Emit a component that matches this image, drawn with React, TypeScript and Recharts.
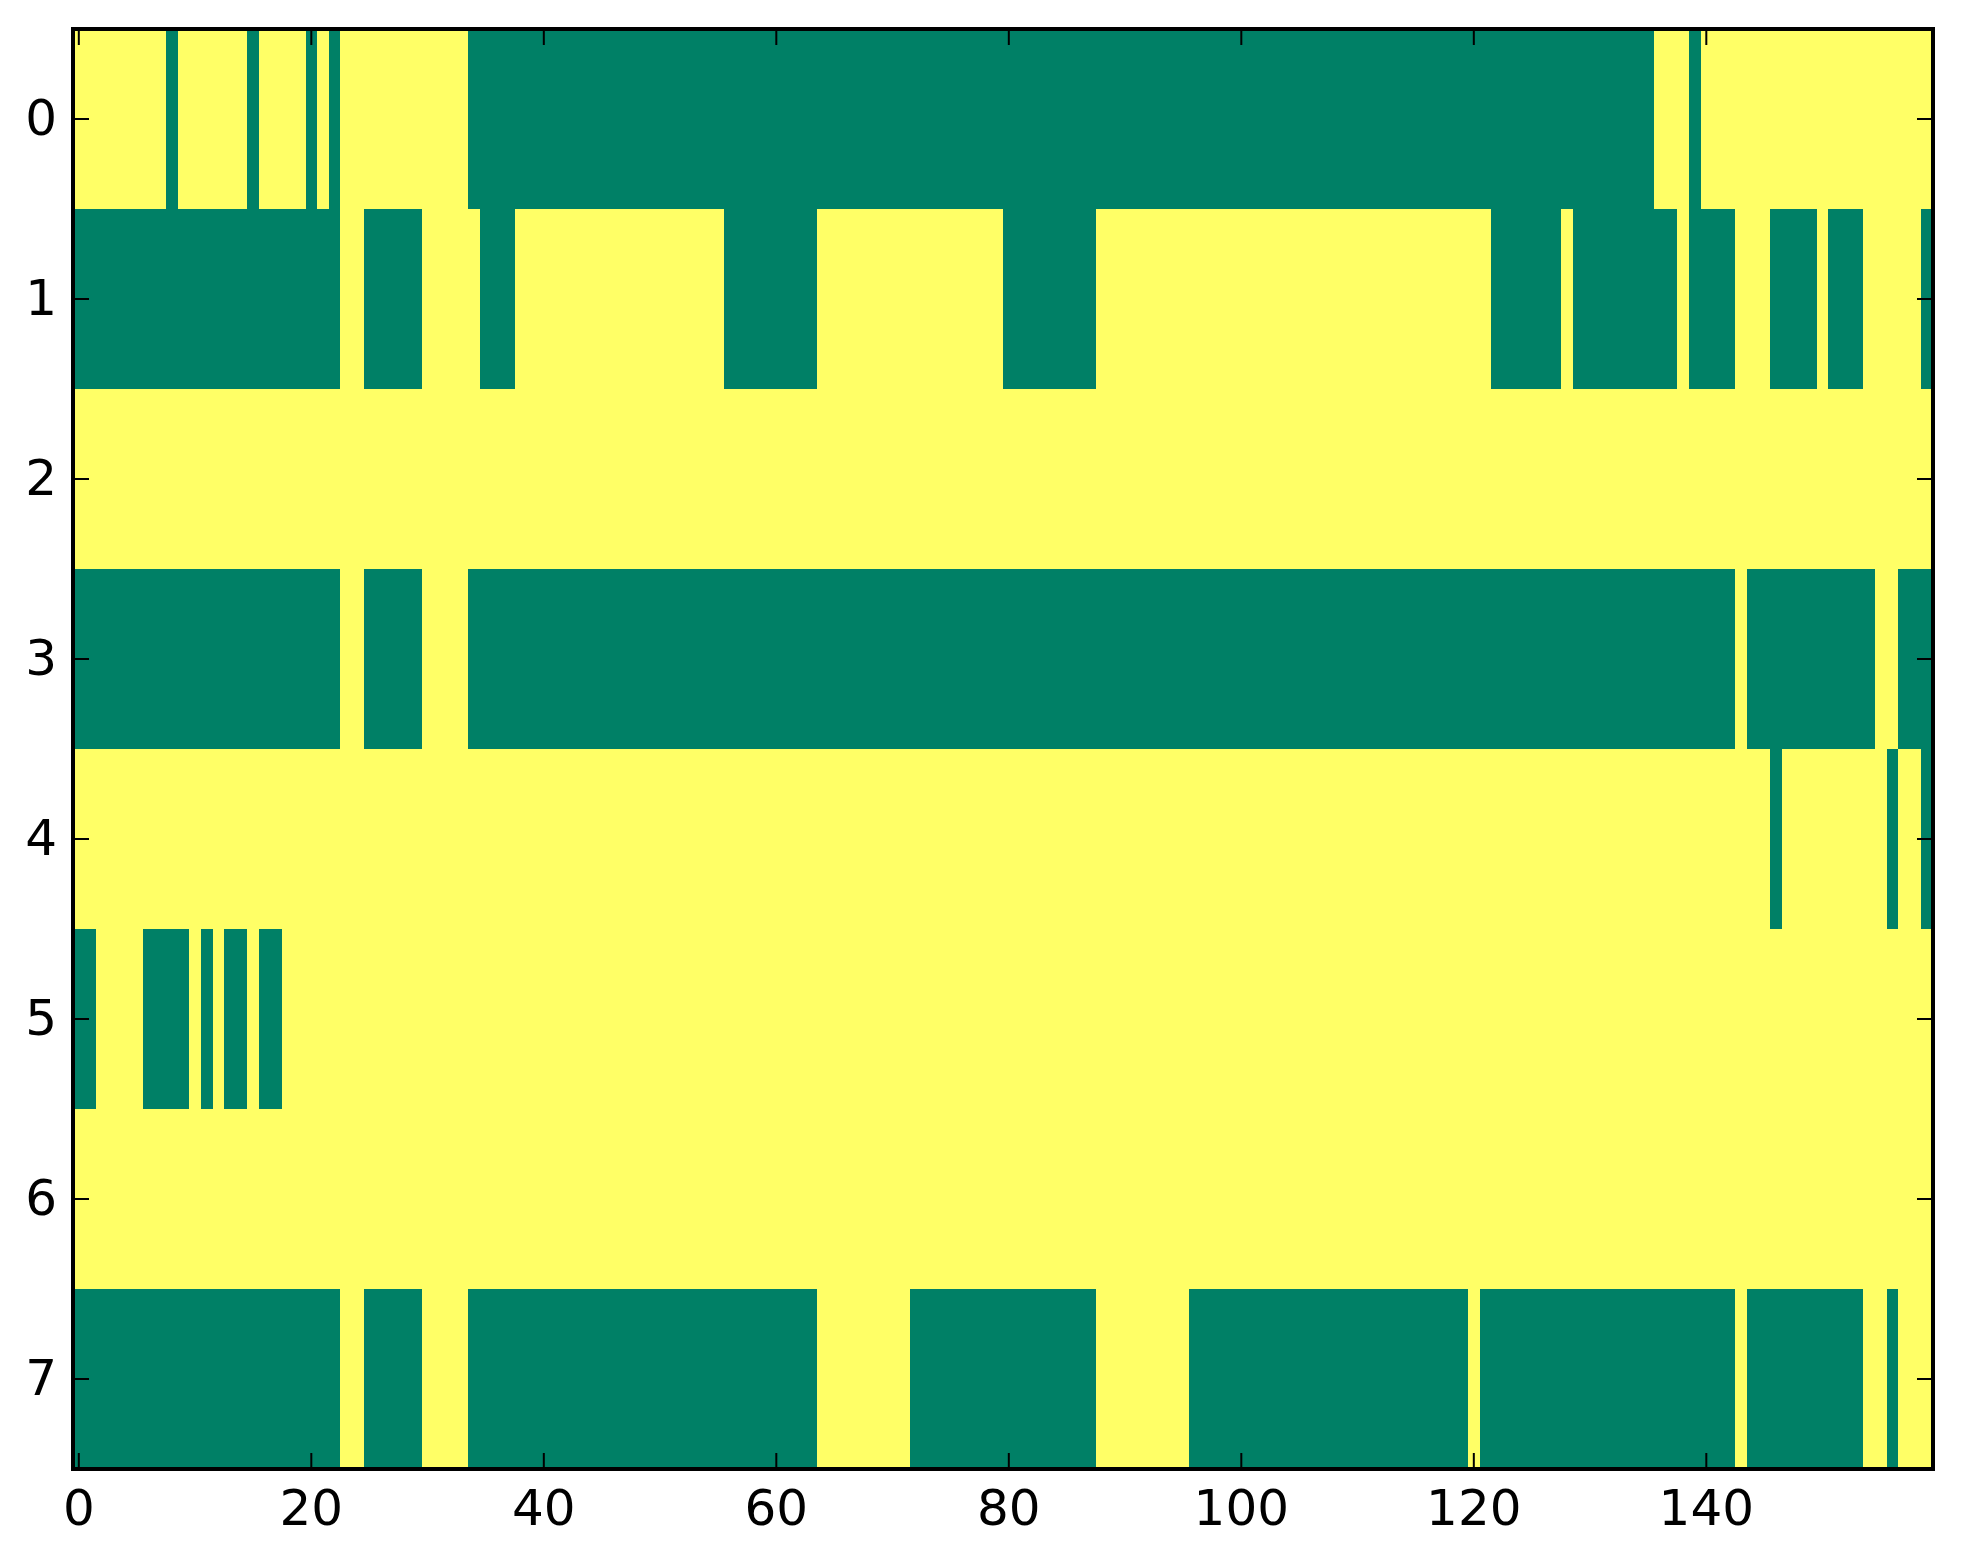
import React from 'react';
import { ComposedChart, XAxis, YAxis, ReferenceArea } from 'recharts';

// green (value 1) cell runs per row, [firstColumn, lastColumn]; everything else is yellow (value 0)
const row0: number[][] = [[8, 8], [15, 15], [20, 20], [22, 22], [34, 135], [139, 139]];
const row1: number[][] = [[0, 22], [25, 29], [35, 37], [56, 63], [80, 87], [122, 127], [129, 137], [139, 142], [146, 149], [151, 153], [159, 159]];
const row2: number[][] = [];
const row3: number[][] = [[0, 22], [25, 29], [34, 142], [144, 154], [157, 159]];
const row4: number[][] = [[146, 146], [156, 156], [159, 159]];
const row5: number[][] = [[0, 1], [6, 9], [11, 11], [13, 14], [16, 17]];
const row6: number[][] = [];
const row7: number[][] = [[0, 22], [25, 29], [34, 63], [72, 87], [96, 119], [121, 142], [144, 153], [156, 156]];

const rows = [row0, row1, row2, row3, row4, row5, row6, row7];
const nCols = 160;
const xTicks = [0, 20, 40, 60, 80, 100, 120, 140];
const yTicks = [0, 1, 2, 3, 4, 5, 6, 7];

const YELLOW = '#ffff66';
const GREEN = '#008066';
const FONT = 'DejaVu Sans';
const FS = 50;
const TICK = 16;

const XTickBottom = (props: any) => {
  const { x, y, payload } = props;
  return (
    <g>
      <line x1={x} x2={x} y1={y} y2={y - TICK} stroke="#000" strokeWidth={2} />
      <text x={x} y={y + 56} textAnchor="middle" fontSize={FS} fontFamily={FONT} fill="#000">
        {payload.value}
      </text>
    </g>
  );
};

const XTickTop = (props: any) => {
  const { x, y } = props;
  return <line x1={x} x2={x} y1={y} y2={y + TICK} stroke="#000" strokeWidth={2} />;
};

const YTickLeft = (props: any) => {
  const { x, y, payload } = props;
  return (
    <g>
      <line x1={x} x2={x + TICK} y1={y} y2={y} stroke="#000" strokeWidth={2} />
      <text x={x - 16} y={y + 15.5} textAnchor="end" fontSize={FS} fontFamily={FONT} fill="#000">
        {payload.value}
      </text>
    </g>
  );
};

const YTickRight = (props: any) => {
  const { x, y } = props;
  return <line x1={x} x2={x - TICK} y1={y} y2={y} stroke="#000" strokeWidth={2} />;
};

const data = [{ x: 0, y: 0 }];

export default function App() {
  const cells: React.ReactNode[] = [];
  rows.forEach((runs, r) => {
    runs.forEach(([a, b], i) => {
      cells.push(
        <ReferenceArea
          key={`c-${r}-${i}`}
          xAxisId="b"
          yAxisId="l"
          x1={a - 0.5}
          x2={b + 0.5}
          y1={r - 0.5}
          y2={r + 0.5}
          fill={GREEN}
          fillOpacity={1}
          stroke="none"
          strokeWidth={0}
          ifOverflow="visible"
          shapeRendering="crispEdges"
        />
      );
    });
  });

  return (
    <div style={{ position: 'absolute', left: 0, top: 0, width: 1963, height: 1564, background: '#fff' }}>
      <ComposedChart
        width={1963}
        height={1564}
        data={data}
        margin={{ top: 28, left: 72, right: 29, bottom: 94 }}
      >
        <XAxis
          xAxisId="b"
          type="number"
          dataKey="x"
          orientation="bottom"
          domain={[-0.5, nCols - 0.5]}
          ticks={xTicks}
          interval={0}
          allowDataOverflow
          height={1}
          tickSize={0}
          tickMargin={0}
          tickLine={false}
          axisLine={false}
          tick={<XTickBottom />}
        />
        <XAxis
          xAxisId="t"
          type="number"
          dataKey="x"
          orientation="top"
          domain={[-0.5, nCols - 0.5]}
          ticks={xTicks}
          interval={0}
          allowDataOverflow
          height={1}
          tickSize={0}
          tickMargin={0}
          tickLine={false}
          axisLine={false}
          tick={<XTickTop />}
        />
        <YAxis
          yAxisId="l"
          type="number"
          dataKey="y"
          orientation="left"
          reversed
          domain={[-0.5, rows.length - 0.5]}
          ticks={yTicks}
          interval={0}
          allowDataOverflow
          width={1}
          tickSize={0}
          tickMargin={0}
          tickLine={false}
          axisLine={false}
          tick={<YTickLeft />}
        />
        <YAxis
          yAxisId="r"
          type="number"
          dataKey="y"
          orientation="right"
          reversed
          domain={[-0.5, rows.length - 0.5]}
          ticks={yTicks}
          interval={0}
          allowDataOverflow
          width={1}
          tickSize={0}
          tickMargin={0}
          tickLine={false}
          axisLine={false}
          tick={<YTickRight />}
        />
        <ReferenceArea
          xAxisId="b"
          yAxisId="l"
          x1={-0.5}
          x2={nCols - 0.5}
          y1={-0.5}
          y2={rows.length - 0.5}
          fill={YELLOW}
          fillOpacity={1}
          stroke="none"
          ifOverflow="visible"
          shapeRendering="crispEdges"
        />
        {cells}
        <ReferenceArea
          xAxisId="b"
          yAxisId="l"
          x1={-0.5}
          x2={nCols - 0.5}
          y1={-0.5}
          y2={rows.length - 0.5}
          fill="none"
          fillOpacity={0}
          stroke="#000"
          strokeWidth={4}
          ifOverflow="visible"
        />
      </ComposedChart>
    </div>
  );
}
